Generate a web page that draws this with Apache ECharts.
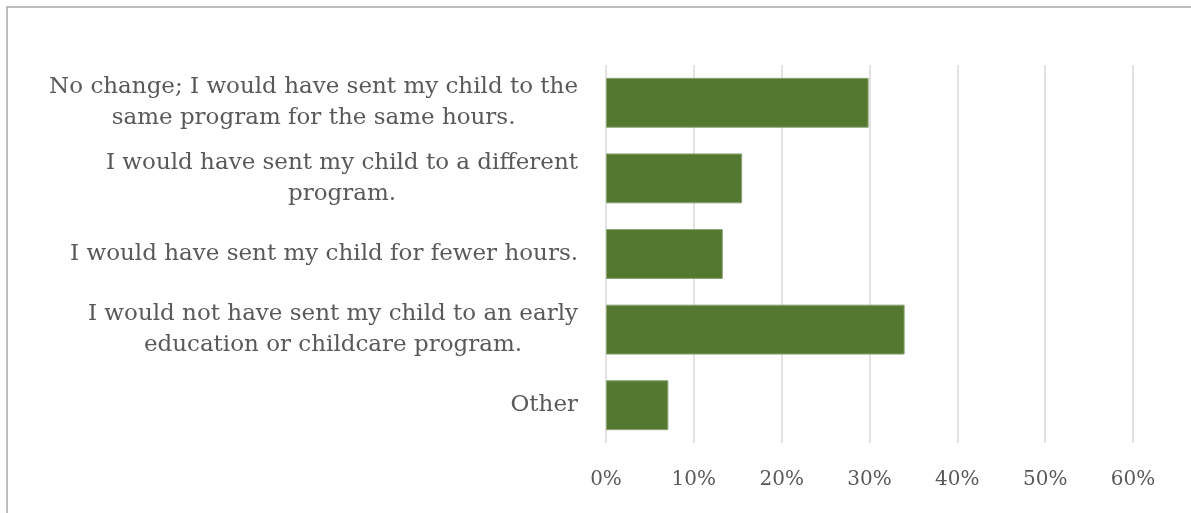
<!DOCTYPE html>
<html>
<head>
<meta charset="utf-8">
<script src="https://cdn.jsdelivr.net/npm/echarts@6/dist/echarts.min.js"></script>
<style>
html,body{margin:0;padding:0;background:#fff;}
#chart{width:1191px;height:513px;}
</style>
</head>
<body>
<div id="chart"></div>
<script>
const categories = [
  "No change; I would have sent my child to the\nsame program for the same hours.",
  "I would have sent my child to a different\nprogram.",
  "I would have sent my child for fewer hours.",
  "I would not have sent my child to an early\neducation or childcare program.",
  "Other"
];
const values = [29.9, 15.5, 13.3, 34.0, 7.1];
const xTicks = [0, 10, 20, 30, 40, 50, 60];

const FONT = "DejaVu Serif";
const chart = echarts.init(document.getElementById('chart'));
chart.setOption({
  animation: false,
  backgroundColor: '#fff',
  graphic: [{
    type: 'rect',
    shape: { x: 7, y: 7, width: 1300, height: 700 },
    style: { fill: 'none', stroke: '#a6a6a6', lineWidth: 1.5 },
    silent: true
  }],
  grid: { left: 606, right: 58, top: 65, bottom: 70, containLabel: false },
  xAxis: {
    type: 'value',
    min: xTicks[0],
    max: xTicks[xTicks.length - 1],
    interval: 10,
    axisLine: { show: false },
    axisTick: { show: false },
    splitLine: { lineStyle: { color: '#d9d9d9', width: 1.5 } },
    axisLabel: {
      formatter: v => v + '%',
      color: '#595959',
      fontFamily: FONT,
      fontSize: 20,
      margin: 27
    }
  },
  yAxis: {
    type: 'category',
    data: categories,
    inverse: true,
    axisLine: { show: false },
    axisTick: { show: false },
    axisLabel: {
      color: '#595959',
      fontFamily: FONT,
      fontSize: 23,
      margin: 28,
      lineHeight: 31,
      align: 'right',
      formatter: v => v.split('\n').map(l => '{c|' + l + '}').join('\n'),
      rich: {
        c: { align: 'center', color: '#595959', fontFamily: FONT, fontSize: 23, lineHeight: 31 }
      }
    }
  },
  series: [{
    type: 'bar',
    data: values,
    barCategoryGap: '34%',
    itemStyle: { color: '#557830', borderColor: '#8ba472', borderWidth: 1 }
  }]
});
</script>
</body>
</html>
